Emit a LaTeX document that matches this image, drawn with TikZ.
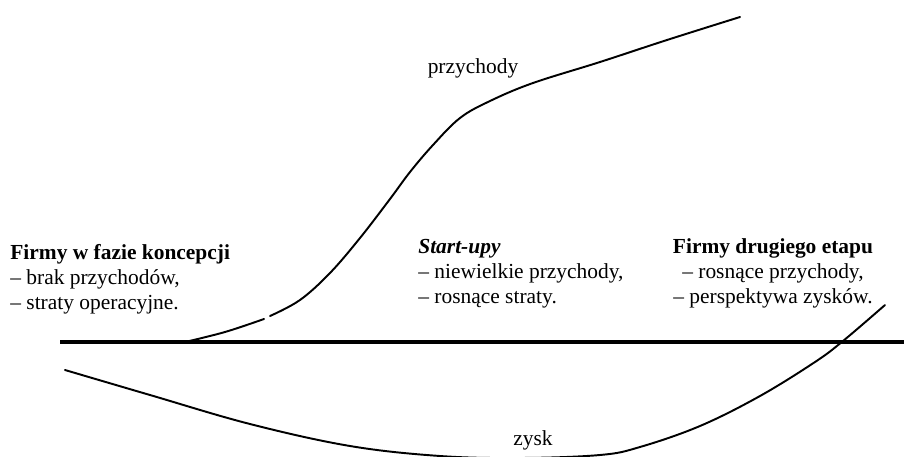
\documentclass[tikz,border=0pt]{standalone}
\usepackage{fontspec}
\setmainfont{Liberation Serif}
\usetikzlibrary{positioning}

\begin{document}
\begin{tikzpicture}[x=0.02cm, y=-0.02cm, font=\fontsize{12.2}{14.2}\selectfont]
                        \useasboundingbox (0, 0) rectangle (904, 457);
                        \tikzset{curve/.style={line width=1.1pt, line cap=round},
                                 opis/.style={inner sep=0pt, anchor=north west, align=left}}

                        % os
                        \coordinate (o1) at (60, 342);
                        \coordinate (o2) at (904, 342);
                        \draw[line width=2.4pt] (o1) -- (o2);

                        % przychody
                        \draw[curve] plot[smooth, tension=0.6] coordinates {(185, 342) (225, 332) (264, 319)};
                        \draw[curve] plot[smooth, tension=0.6] coordinates {(270, 316) (300, 300) (330, 273) (360, 238)
                            (390, 199) (410, 172) (433, 145) (460, 118) (490, 101) (533, 83) (600, 62) (667, 40) (740, 17)};

                        % zysk
                        \draw[curve] plot[smooth, tension=0.6] coordinates {(65, 370) (150, 395) (250, 424) (350, 446)
                            (440, 456) (520, 458) (600, 455) (640, 447) (700, 426) (760, 396) (815, 362) (843, 341) (885, 305)};

                        \node (przychody) at (473, 68) {przychody};
                        \node (zysk) at (533, 440) {zysk};

                        \node[opis] (koncepcja) at (10, 244) {\textbf{Firmy w fazie koncepcji}\\ -- brak przychodów,\\ -- straty operacyjne.};
                        \node[opis] (startupy) at (418, 239) {\textbf{\textit{Start-upy}}\\ -- niewielkie przychody,\\ -- rosnące straty.};
                        \node[inner sep=0pt, anchor=north, align=center] (etap) at (773, 238) {\textbf{Firmy drugiego etapu}\\ -- rosnące przychody,\\ -- perspektywa zysków.};
                    \end{tikzpicture}
\end{document}
